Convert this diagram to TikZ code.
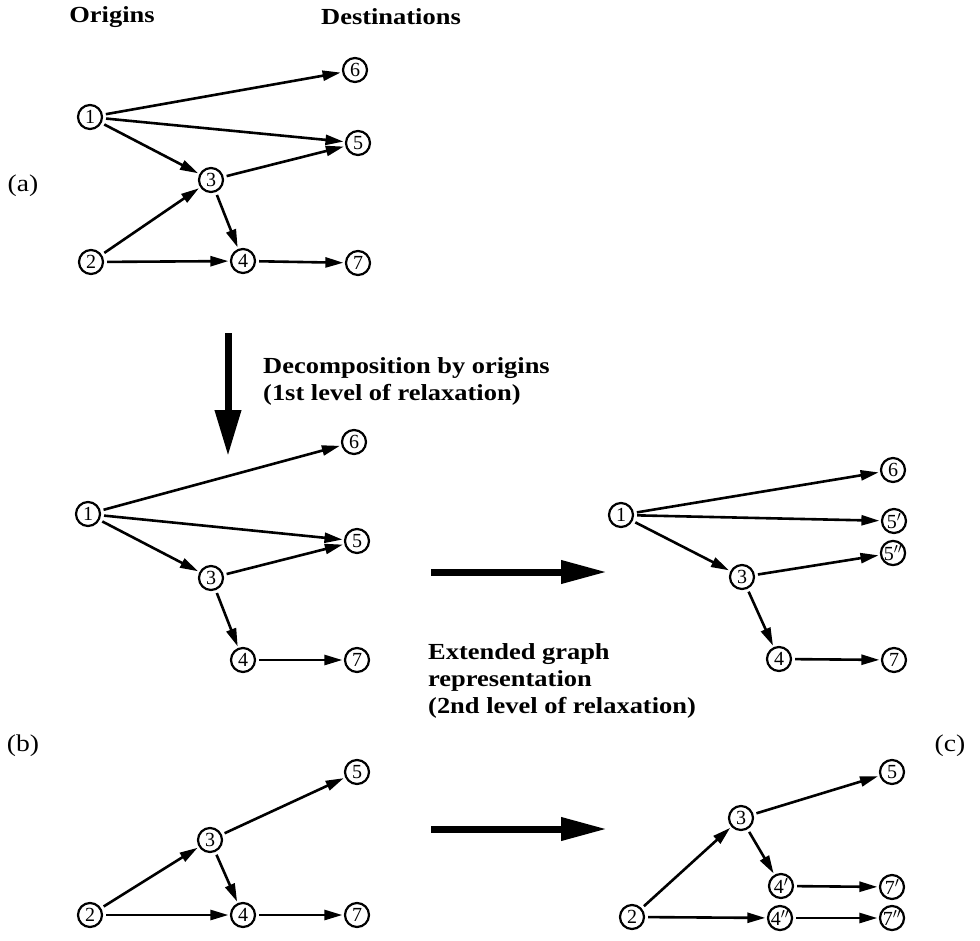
\documentclass[tikz,border=0pt]{standalone}
\usepackage{fontspec}
\setmainfont{Liberation Serif}
\newfontfamily\lblfont[FakeStretch=1.15]{Liberation Serif}
\usetikzlibrary{arrows.meta}
\begin{document}
\begin{tikzpicture}[x=1pt,y=-1pt,
  nd/.style={circle,draw,line width=2.2pt,minimum size=24pt,inner sep=0pt,font=\fontsize{20}{20}\selectfont},
  ed/.style={line width=2.6pt,-{Triangle[length=18pt,width=10pt]},shorten >=1.5pt,shorten <=3pt},
  bigarrow/.style={line width=7pt,-{Triangle[length=46pt,width=25pt]}},
  lbl/.style={font=\lblfont\fontsize{23}{27}\selectfont\bfseries,align=left,anchor=north west,inner sep=0pt},
  part/.style={font=\lblfont\fontsize{24}{24}\selectfont,inner sep=0pt}]
\useasboundingbox (0,0) rectangle (980,940);
% headings
\node[lbl,anchor=center] (origins) at (112,17) {Origins};
\node[lbl,anchor=center] (dest) at (391,17) {Destinations};
\node[part] (pa) at (23,186) {(a)};
\node[part] (pb) at (23,746) {(b)};
\node[part] (pc) at (950,746) {(c)};
% (a)
\node[nd] (a1) at (90,117) {1};
\node[nd] (a2) at (91,262) {2};
\node[nd] (a3) at (211,180) {3};
\node[nd] (a4) at (243,261) {4};
\node[nd] (a5) at (358,143) {5};
\node[nd] (a6) at (355,70) {6};
\node[nd] (a7) at (358,263) {7};
\draw[ed] (a1) -- (a6);
\draw[ed] (a1) -- (a5);
\draw[ed] (a1) -- (a3);
\draw[ed] (a3) -- (a5);
\draw[ed] (a2) -- (a3);
\draw[ed] (a3) -- (a4);
\draw[ed] (a2) -- (a4);
\draw[ed] (a4) -- (a7);
% big down arrow
\coordinate (d0) at (228,333);
\coordinate (d1) at (228,456);
\draw[bigarrow] (d0) -- (d1);
\node[lbl] (t1) at (263,357) {Decomposition by origins\\(1st level of relaxation)};
% (b) top
\node[nd] (b1) at (88,514) {1};
\node[nd] (b6) at (354,442) {6};
\node[nd] (b5) at (357,541) {5};
\node[nd] (b3) at (211,578) {3};
\node[nd] (b4) at (243,660) {4};
\node[nd] (b7) at (357,660) {7};
\draw[ed] (b1) -- (b6);
\draw[ed] (b1) -- (b5);
\draw[ed] (b1) -- (b3);
\draw[ed] (b3) -- (b5);
\draw[ed] (b3) -- (b4);
\draw[ed] (b4) -- (b7);
% (b) bottom
\node[nd] (c2) at (90,915) {2};
\node[nd] (c3) at (210,840) {3};
\node[nd] (c5) at (357,772) {5};
\node[nd] (c4) at (243,915) {4};
\node[nd] (c7) at (357,915) {7};
\draw[ed] (c2) -- (c3);
\draw[ed] (c3) -- (c5);
\draw[ed] (c3) -- (c4);
\draw[ed] (c2) -- (c4);
\draw[ed] (c4) -- (c7);
% horizontal arrows
\coordinate (h0) at (431,572);
\coordinate (h1) at (607,572);
\draw[bigarrow,-{Triangle[length=46pt,width=22pt]}] (h0) -- (h1);
\coordinate (k0) at (431,829);
\coordinate (k1) at (607,829);
\draw[bigarrow,-{Triangle[length=46pt,width=22pt]}] (k0) -- (k1);
\node[lbl] (t2) at (428,643) {Extended graph\\representation\\(2nd level of relaxation)};
% (c) top
\node[nd] (e1) at (621,515) {1};
\node[nd] (e6) at (893,470) {6};
\node[nd] (e5a) at (894,521) {5$'$};
\node[nd] (e5b) at (893,553) {5$''$};
\node[nd] (e3) at (742,577) {3};
\node[nd] (e4) at (779,659) {4};
\node[nd] (e7) at (894,660) {7};
\draw[ed] (e1) -- (e6);
\draw[ed] (e1) -- (e5a);
\draw[ed] (e1) -- (e3);
\draw[ed] (e3) -- (e5b);
\draw[ed] (e3) -- (e4);
\draw[ed] (e4) -- (e7);
% (c) bottom
\node[nd] (f2) at (632,917) {2};
\node[nd] (f3) at (741,818) {3};
\node[nd] (f5) at (892,772) {5};
\node[nd] (f4a) at (781,886) {4$'$};
\node[nd] (f7a) at (892,887) {7$'$};
\node[nd] (f4b) at (780,918) {4$''$};
\node[nd] (f7b) at (892,918) {7$''$};
\draw[ed] (f2) -- (f3);
\draw[ed] (f3) -- (f5);
\draw[ed] (f3) -- (f4a);
\draw[ed] (f4a) -- (f7a);
\draw[ed] (f2) -- (f4b);
\draw[ed] (f4b) -- (f7b);
\end{tikzpicture}
\end{document}
